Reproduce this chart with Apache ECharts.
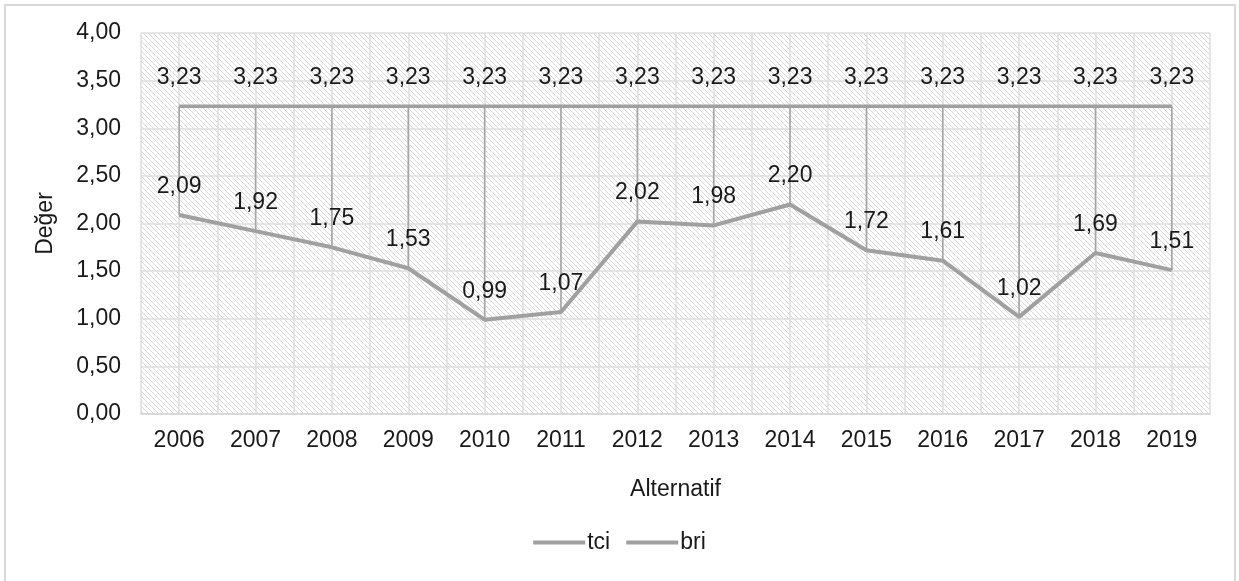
<!DOCTYPE html>
<html>
<head>
<meta charset="utf-8">
<script src="https://cdn.jsdelivr.net/npm/echarts@6/dist/echarts.min.js"></script>
<style>
html,body{margin:0;padding:0;background:#fff;}
#frame{position:absolute;left:4px;top:4px;width:1232px;height:600px;border:2px solid #d9d9d9;box-sizing:border-box;}
#chart{position:absolute;left:0;top:0;width:1239px;height:581px;}
</style>
</head>
<body>
<div id="frame"></div>
<div id="chart"></div>
<script>
const categories = ['2006','2007','2008','2009','2010','2011','2012','2013','2014','2015','2016','2017','2018','2019'];
const tci = [2.09,1.92,1.75,1.53,0.99,1.07,2.02,1.98,2.20,1.72,1.61,1.02,1.69,1.51];
const bri = [3.23,3.23,3.23,3.23,3.23,3.23,3.23,3.23,3.23,3.23,3.23,3.23,3.23,3.23];
const yTicks = [0,0.5,1,1.5,2,2.5,3,3.5,4];

const FONT = 'Liberation Sans, Arial, sans-serif';
const FS = 23;
const TXT = '#1a1a1a';
const fmt = v => Number(v).toFixed(2).replace('.', ',');

// hatch pattern
const pc = document.createElement('canvas');
pc.width = 5; pc.height = 5;
const g = pc.getContext('2d');
g.fillStyle = '#ffffff'; g.fillRect(0,0,5,5);
g.strokeStyle = '#d8d8d8'; g.lineWidth = 1.0;
g.beginPath();
g.moveTo(-1,-1); g.lineTo(6,6);
g.moveTo(-1,4); g.lineTo(1,6);
g.moveTo(4,-1); g.lineTo(6,1);
g.stroke();

const chart = echarts.init(document.getElementById('chart'), null, {renderer:'canvas'});
const lineColor = '#a0a0a0';
const clear = 'rgba(0,0,0,0)';
chart.setOption({
  animation:false,
  backgroundColor:'transparent',
  textStyle:{fontFamily:FONT},
  grid:{left:141,right:29,top:33,bottom:167,show:true,backgroundColor:{image:pc,repeat:'repeat'},borderWidth:0},
  legend:{
    bottom:22,left:'center',
    data:[{name:'tci',itemStyle:{color:lineColor,opacity:1}},{name:'bri',itemStyle:{color:lineColor,opacity:1}}],
    icon:'rect',itemWidth:52,itemHeight:4,itemGap:16,
    textStyle:{fontSize:FS,color:TXT,fontFamily:FONT,padding:[0,0,0,-3]}
  },
  xAxis:[{
    type:'category',data:categories,boundaryGap:true,
    axisLine:{show:true,lineStyle:{color:'#d9d9d9',width:2}},
    axisTick:{show:false},
    axisLabel:{fontSize:FS,color:TXT,margin:15,fontFamily:FONT},
    splitLine:{show:false},
    name:'Alternatif',nameLocation:'middle',nameGap:64,
    nameTextStyle:{fontSize:FS,color:TXT,fontFamily:FONT}
  },{
    type:'value',min:0,max:28,interval:1,show:true,position:'top',
    axisLine:{show:false},axisTick:{show:false},axisLabel:{show:false},
    splitLine:{show:true,lineStyle:{color:'#dedede',width:1.5}}
  }],
  yAxis:{
    type:'value',min:0,max:4,interval:0.5,
    axisLine:{show:false},axisTick:{show:false},
    axisLabel:{fontSize:FS,color:TXT,margin:20,formatter:v=>fmt(v),fontFamily:FONT},
    splitLine:{show:true,lineStyle:{color:'#dedede',width:1.5}},
    name:'Değer',nameLocation:'middle',nameGap:84,nameRotate:90,
    nameTextStyle:{fontSize:FS,color:TXT,fontFamily:FONT}
  },
  series:[
    {
      type:'custom',xAxisIndex:0,yAxisIndex:0,silent:true,z:1,
      data:categories.map((c,i)=>[i,tci[i],bri[i]]),
      renderItem:(params,api)=>{
        const a = api.coord([api.value(0),api.value(1)]);
        const b = api.coord([api.value(0),api.value(2)]);
        return {type:'line',shape:{x1:a[0],y1:a[1],x2:b[0],y2:b[1]},style:{stroke:'#a6a6a6',lineWidth:1.6}};
      }
    },
    {
      name:'tci',type:'line',data:tci,z:3,
      symbol:'circle',symbolSize:2,showSymbol:true,
      itemStyle:{color:clear,borderWidth:0},
      lineStyle:{color:lineColor,width:4},
      label:{show:true,position:'top',distance:16,fontSize:FS,color:TXT,formatter:p=>fmt(p.value),fontFamily:FONT}
    },
    {
      name:'bri',type:'line',data:bri,z:3,
      symbol:'circle',symbolSize:2,showSymbol:true,
      itemStyle:{color:clear,borderWidth:0},
      lineStyle:{color:lineColor,width:3.5},
      label:{show:true,position:'top',distance:16,fontSize:FS,color:TXT,formatter:p=>fmt(p.value),fontFamily:FONT}
    }
  ]
});
</script>
</body>
</html>
